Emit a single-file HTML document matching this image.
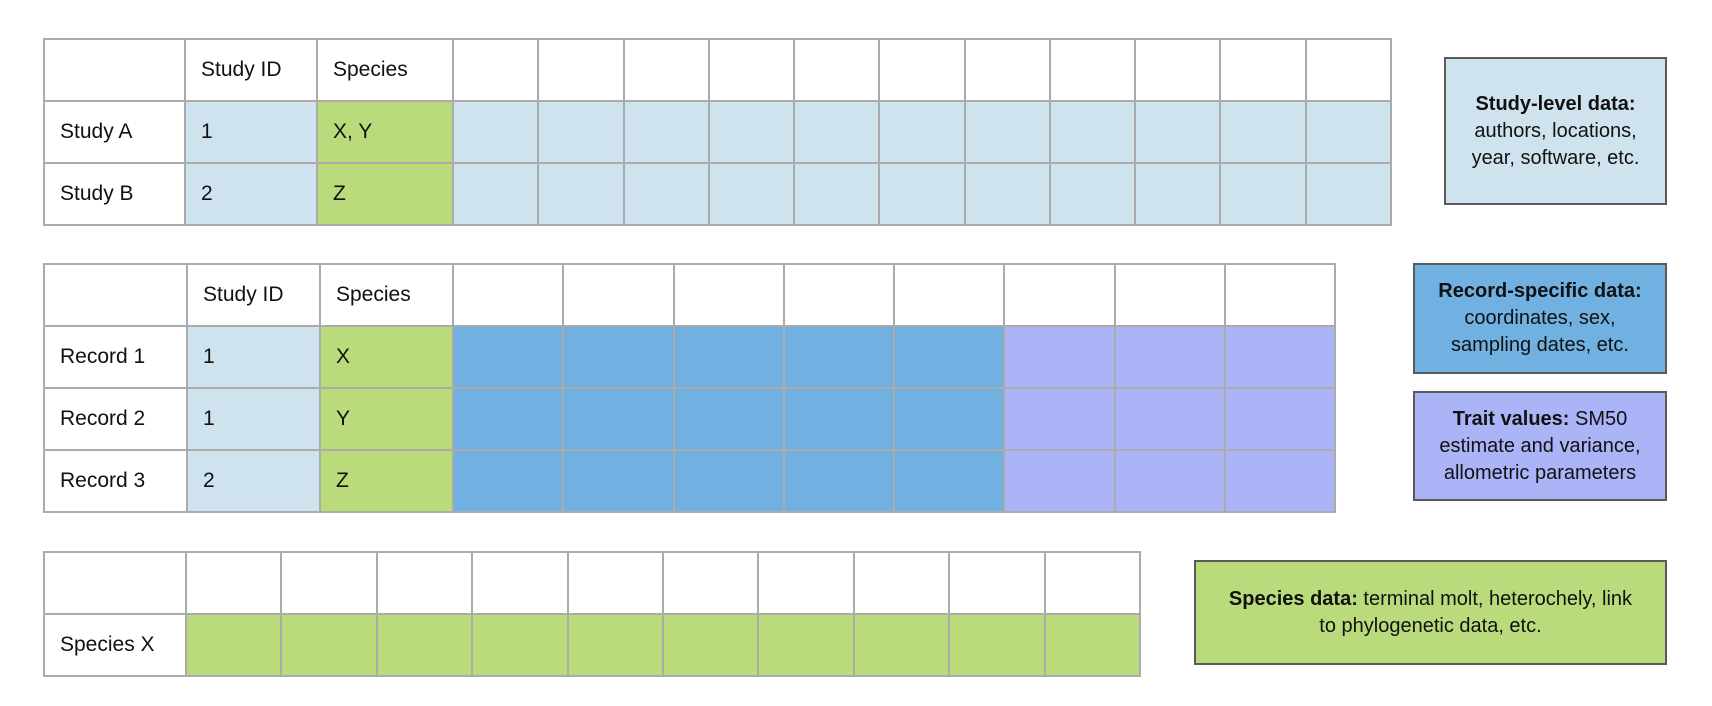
<!DOCTYPE html>
<html><head><meta charset="utf-8">
<style>
html,body{margin:0;padding:0;background:#fff;}
#root{position:relative;width:1712px;height:706px;overflow:hidden;font-family:"Liberation Sans",Arial,sans-serif;color:#111;}
.cell{position:absolute;box-sizing:border-box;border:2px solid #ababab;font-size:21px;display:flex;align-items:center;padding-left:15px;}
.box{position:absolute;box-sizing:border-box;border:2px solid #5a5a5a;font-size:20px;line-height:27px;text-align:center;display:flex;align-items:center;justify-content:center;}
</style></head>
<body>
<div id="root">
  <div class="box" style="left:1444px;top:57px;width:223px;height:148px;background:#cfe3ee;"><div><b>Study-level data:</b><br>authors, locations,<br>year, software, etc.</div></div>
  <div class="box" style="left:1413px;top:263px;width:254px;height:111px;background:#70b1e1;"><div><b>Record-specific data:</b><br>coordinates, sex,<br>sampling dates, etc.</div></div>
  <div class="box" style="left:1413px;top:391px;width:254px;height:110px;background:#aab4f7;"><div><b>Trait values:</b> SM50<br>estimate and variance,<br>allometric parameters</div></div>
  <div class="box" style="left:1194px;top:560px;width:473px;height:105px;background:#b9db7c;"><div><b>Species data:</b> terminal molt, heterochely, link<br>to phylogenetic data, etc.</div></div>
</div>
<script>
// Table 1: study table
const t1ColEdges = [43,184,316,452];
const t1ExtraCols = 11; const t1Right = 1390;
const t1RowEdges = [38,100,162,224];
const t1Header = ["", "Study ID", "Species"];
const t1RowLabels = ["Study A","Study B"];
const t1Ids = ["1","2"];
const t1Species = ["X, Y","Z"];
// Table 2: record table
const t2ColEdges = [43,186,319,452];
const t2ExtraCols = 8; const t2BlueCols = 5; const t2Right = 1334;
const t2RowEdges = [263,325,387,449,511];
const t2Header = ["", "Study ID", "Species"];
const t2RowLabels = ["Record 1","Record 2","Record 3"];
const t2Ids = ["1","1","2"];
const t2Species = ["X","Y","Z"];
// Table 3: species table
const t3ColEdges = [43,185];
const t3ExtraCols = 10; const t3Right = 1139;
const t3RowEdges = [551,613,675];
const t3RowLabels = ["Species X"];

const LB="#cfe3ee", GR="#b9db7c", BL="#70b1e1", PU="#aab4f7";
const root=document.getElementById('root');
function cell(x0,x1,y0,y1,bg,text,name){
  const d=document.createElement('div');
  d.className='cell';
  d.style.left=x0+'px';d.style.top=y0+'px';
  d.style.width=(x1-x0+2)+'px';d.style.height=(y1-y0+2)+'px';
  d.style.background=bg;
  d.textContent=text;
  
  
  root.insertBefore(d, root.firstChild);
}
function edges(base,n,right){
  const e=base.slice();const s=base[base.length-1];const p=(right-s)/n;
  for(let i=1;i<=n;i++)e.push(Math.round(s+p*i));
  return e;
}
(function(){
  const c=edges(t1ColEdges,t1ExtraCols,t1Right), r=t1RowEdges;
  for(let ri=0;ri<r.length-1;ri++){
    for(let ci=0;ci<c.length-1;ci++){
      let bg="#fff",txt="";
      if(ri===0){txt=t1Header[ci]||"";}
      else{
        const k=ri-1;
        if(ci===0)txt=t1RowLabels[k];
        else if(ci===1){txt=t1Ids[k];bg=LB;}
        else if(ci===2){txt=t1Species[k];bg=GR;}
        else bg=LB;
      }
      cell(c[ci],c[ci+1],r[ri],r[ri+1],bg,txt,'study-table-cell');
    }
  }
})();
(function(){
  const c=edges(t2ColEdges,t2ExtraCols,t2Right), r=t2RowEdges;
  for(let ri=0;ri<r.length-1;ri++){
    for(let ci=0;ci<c.length-1;ci++){
      let bg="#fff",txt="";
      if(ri===0){txt=t2Header[ci]||"";}
      else{
        const k=ri-1;
        if(ci===0)txt=t2RowLabels[k];
        else if(ci===1){txt=t2Ids[k];bg=LB;}
        else if(ci===2){txt=t2Species[k];bg=GR;}
        else bg=(ci-3<t2BlueCols)?BL:PU;
      }
      cell(c[ci],c[ci+1],r[ri],r[ri+1],bg,txt,'record-table-cell');
    }
  }
})();
(function(){
  const c=edges(t3ColEdges,t3ExtraCols,t3Right), r=t3RowEdges;
  for(let ri=0;ri<r.length-1;ri++){
    for(let ci=0;ci<c.length-1;ci++){
      let bg="#fff",txt="";
      if(ri>0){ if(ci===0)txt=t3RowLabels[ri-1]; else bg=GR; }
      cell(c[ci],c[ci+1],r[ri],r[ri+1],bg,txt,'species-table-cell');
    }
  }
})();
</script>
</body></html>
